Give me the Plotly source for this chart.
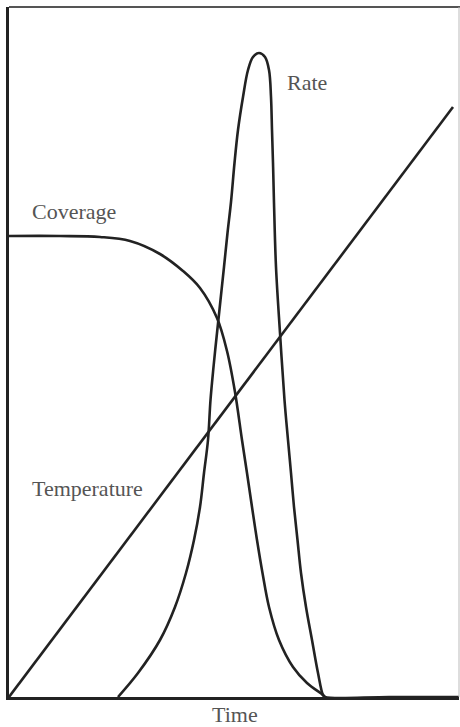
import plotly.graph_objects as go

# Arbitrary units: time 0..450, signal 0..690
temp_t = [0, 444]
temp_v = [0, 590]

cov_t = [0, 51, 91, 121, 151, 174, 191, 208, 218, 226, 233, 238, 243, 248, 253.5, 260, 270, 284, 298, 314, 316]
cov_v = [461, 461, 460, 456, 443, 426, 409, 379, 346, 305, 257, 224, 190, 157, 124, 90, 57, 30, 14, 2, 0]

rate_t = [109, 129, 151, 166, 177, 185, 191, 195, 199, 201.5, 204.5, 208, 211.5, 215, 218.5, 222, 225.5, 229,
          234, 239, 244, 250, 256, 260, 262, 263, 264, 265, 267, 271, 275.5, 279, 282, 285, 288.5, 292, 297,
          303, 309, 314, 316, 380, 450]
rate_v = [0, 24, 57, 90, 124, 157, 190, 224, 257, 297, 330, 364, 397, 430, 464, 495, 534, 567,
          600, 627, 640, 644, 640, 627, 600, 567, 534, 494, 430, 364, 297, 257, 224, 190, 157, 124, 90,
          57, 24, 2, 0, 0, 0]

labels = ["Rate", "Coverage", "Temperature"]
label_t = [276, 21, 21]
label_v = [615, 486, 209]

line_col = "#222222"
fig = go.Figure()
fig.add_trace(go.Scatter(x=temp_t, y=temp_v, mode="lines",
                         line=dict(color=line_col, width=2.6)))
fig.add_trace(go.Scatter(x=cov_t, y=cov_v, mode="lines",
                         line=dict(color=line_col, width=2.6, shape="spline", smoothing=1.0)))
fig.add_trace(go.Scatter(x=rate_t, y=rate_v, mode="lines",
                         line=dict(color=line_col, width=2.6, shape="spline", smoothing=1.0)))

font = dict(family="Liberation Serif", size=22, color="#555555")
for txt, t, v in zip(labels, label_t, label_v):
    fig.add_annotation(x=t, y=v, xref="x", yref="y", text=txt, showarrow=False,
                       xanchor="left", yanchor="middle", font=font)
fig.add_annotation(x=0.5, y=-0.026, xref="paper", yref="paper", text="Time", showarrow=False,
                   xanchor="center", yanchor="middle", font=font, xshift=1)

# frame
fig.add_shape(type="line", xref="paper", yref="paper", x0=0, x1=1.01, y0=1, y1=1,
              line=dict(color="#555555", width=2))
fig.add_shape(type="line", xref="paper", yref="paper", x0=1, x1=1, y0=0, y1=1,
              line=dict(color="#bbbbbb", width=1))

fig.update_xaxes(range=[0, 450], showgrid=False, zeroline=False, showticklabels=False,
                 ticks="", showline=True, linecolor="#222222", linewidth=2.6)
fig.update_yaxes(range=[0, 690], showgrid=False, zeroline=False, showticklabels=False,
                 ticks="", showline=True, linecolor="#222222", linewidth=2.6)

fig.update_layout(width=460, height=727, margin=dict(l=9, r=1, t=7, b=30),
                  showlegend=False, plot_bgcolor="white", paper_bgcolor="white")

fig.write_html("out.html")
